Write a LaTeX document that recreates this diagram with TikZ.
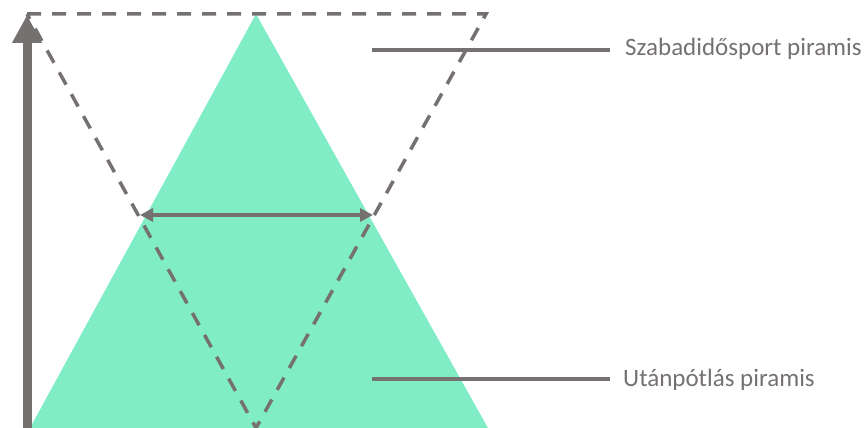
\documentclass[tikz,border=0pt]{standalone}
\usepackage{fontspec}
\setmainfont{Carlito}
\usetikzlibrary{arrows.meta}
\definecolor{ink}{RGB}{118,113,113}
\definecolor{mint}{RGB}{128,237,198}
\begin{document}
\begin{tikzpicture}[x=1pt,y=-1pt,
  leader/.style={draw=ink,line width=4pt},
  dashtri/.style={draw=ink,line width=3.5pt,dash pattern=on 14pt off 11pt},
  lbl/.style={text=ink,font=\fontsize{25}{28}\selectfont,anchor=west,inner sep=0pt}]
\useasboundingbox (0,0) rectangle (868,428);
% green pyramid
\coordinate (ga) at (256,14);
\coordinate (gl) at (30,428);
\coordinate (gr) at (488,428);
\fill[mint] (ga) -- (gr) -- (gl) -- cycle;
% dashed inverted pyramid
\coordinate (dl) at (27,14);
\coordinate (dr) at (486,14);
\coordinate (db) at (256,428);
\draw[dashtri] (dl) -- (dr) -- (db) -- cycle;
% vertical arrow
\coordinate (vb) at (27,428);
\coordinate (vt) at (27,15);
\draw[ink,line width=9pt,-{Triangle[width=28pt,length=28pt]}] (vb) -- (vt);
% double arrow
\coordinate (hl) at (140,215);
\coordinate (hr) at (373,215);
\draw[ink,line width=4pt,{Triangle[width=13pt,length=13pt]}-{Triangle[width=13pt,length=13pt]}] (hl) -- (hr);
% labels
\node[lbl] (t1) at (625,49) {Szabadidősport piramis};
\node[lbl] (t2) at (623,380) {Utánpótlás piramis};
\coordinate (l1) at (372,50);
\coordinate (l2) at (372,379);
\draw[leader] (l1) -- (610,50);
\draw[leader] (l2) -- (610,379);
\end{tikzpicture}
\end{document}
